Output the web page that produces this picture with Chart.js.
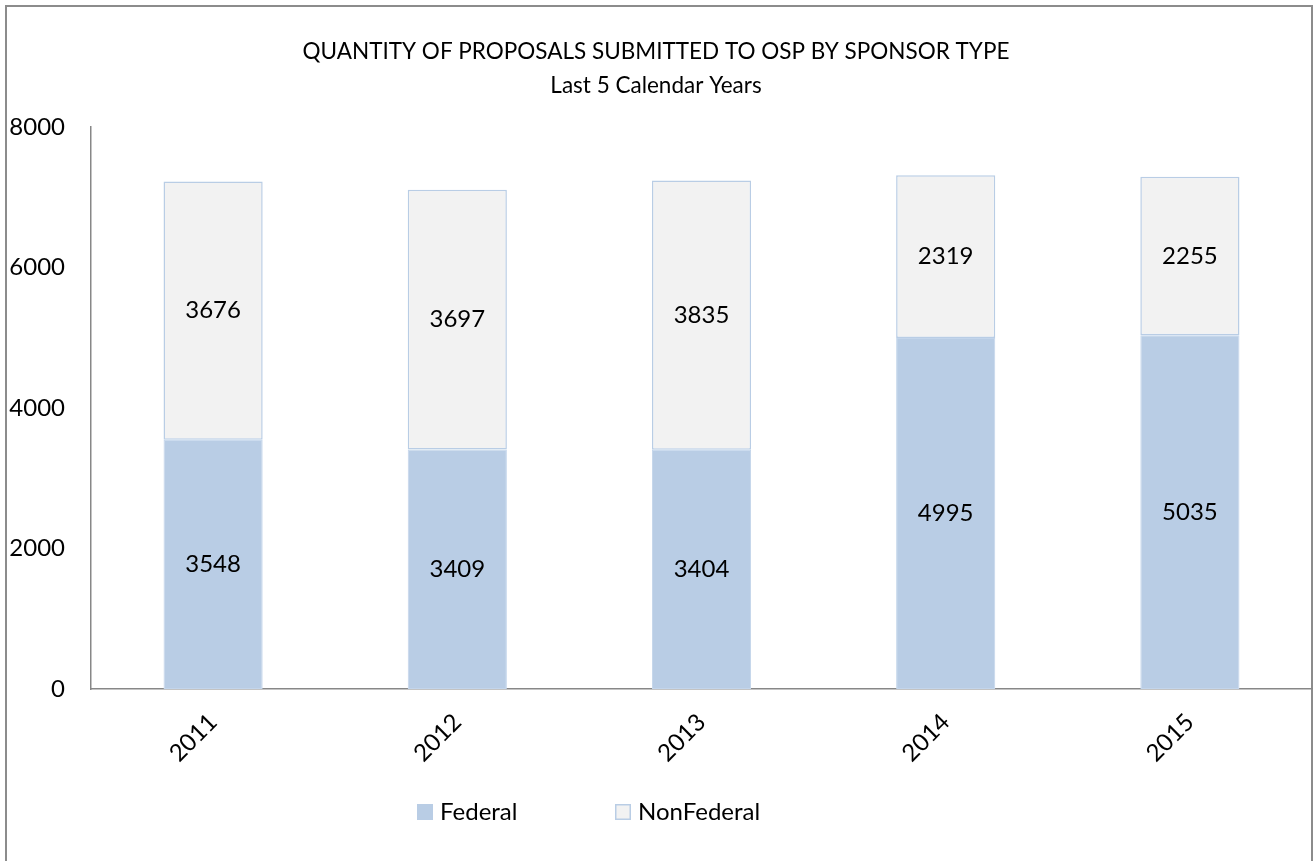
<!DOCTYPE html>
<html>
<head>
<meta charset="utf-8">
<script src="https://cdn.jsdelivr.net/npm/chart.js@4"></script>
<style>
  html, body { margin: 0; padding: 0; background: #fff; }
  #wrap { width: 1315px; height: 861px; position: relative; }
</style>
</head>
<body>
<div id="wrap"><canvas id="c" width="1315" height="861"></canvas></div>
<script>
const categories = ['2011', '2012', '2013', '2014', '2015'];
const federal = [3548, 3409, 3404, 4995, 5035];
const nonFederal = [3676, 3697, 3835, 2319, 2255];
const yTicks = [0, 2000, 4000, 6000, 8000];
const titleLines = ['QUANTITY OF PROPOSALS SUBMITTED TO OSP BY SPONSOR TYPE', 'Last 5 Calendar Years'];

const FONT = 'Lato, "Open Sans", sans-serif';

const frame = {
  id: 'frame',
  beforeDraw(chart) {
    const ctx = chart.ctx;
    ctx.save();
    ctx.fillStyle = '#ffffff';
    ctx.fillRect(0, 0, chart.width, chart.height);
    ctx.strokeStyle = '#8c8c8c';
    ctx.lineWidth = 2;
    ctx.strokeRect(6, 6, 1306, 870);
    ctx.restore();
  }
};

const valueLabels = {
  id: 'valueLabels',
  afterDatasetsDraw(chart) {
    const ctx = chart.ctx;
    ctx.save();
    ctx.font = '24px ' + FONT;
    ctx.fillStyle = '#000';
    ctx.textAlign = 'center';
    ctx.textBaseline = 'middle';
    chart.data.datasets.forEach((ds, di) => {
      const meta = chart.getDatasetMeta(di);
      meta.data.forEach((bar, i) => {
        const p = bar.getProps(['x', 'y', 'base'], true);
        ctx.fillText(String(ds.data[i]), p.x, (p.y + p.base) / 2);
      });
    });
    ctx.restore();
  }
};

const customLegend = {
  id: 'customLegend',
  afterDraw(chart) {
    const ctx = chart.ctx;
    const ds = chart.data.datasets;
    const boxX = [417, 615];
    const y = 812;
    ctx.save();
    ctx.font = '24px ' + FONT;
    ctx.textAlign = 'left';
    ctx.textBaseline = 'middle';
    ds.forEach((d, i) => {
      ctx.fillStyle = d.backgroundColor;
      ctx.fillRect(boxX[i], y - 8, 16, 16);
      if (d.legendStroke) {
        ctx.strokeStyle = d.borderColor;
        ctx.lineWidth = 1.5;
        ctx.strokeRect(boxX[i] + 0.75, y - 8 + 0.75, 14.5, 14.5);
      }
      ctx.fillStyle = '#000';
      ctx.fillText(d.label, boxX[i] + 23, y);
    });
    ctx.restore();
  }
};

new Chart(document.getElementById('c'), {
  type: 'bar',
  data: {
    labels: categories,
    datasets: [
      {
        label: 'Federal',
        data: federal,
        backgroundColor: '#B9CDE5',
        borderColor: '#C3D5EB',
        borderWidth: 1,
        borderSkipped: false,
        categoryPercentage: 1,
        barPercentage: 0.406
      },
      {
        label: 'NonFederal',
        data: nonFederal,
        backgroundColor: '#F2F2F2',
        borderColor: '#B9CDE5',
        borderWidth: 1.5,
        borderSkipped: false,
        legendStroke: true,
        categoryPercentage: 1,
        barPercentage: 0.406
      }
    ]
  },
  options: {
    responsive: false,
    animation: false,
    layout: { padding: { left: 0, right: 3, top: 0, bottom: 0 } },
    plugins: {
      legend: { display: false },
      tooltip: { enabled: false },
      title: {
        display: true,
        text: titleLines,
        color: '#000',
        font: { family: FONT, size: 22.5, weight: 'normal', lineHeight: 1.511 },
        padding: { top: 35, bottom: 24 }
      }
    },
    scales: {
      x: {
        stacked: true,
        grid: { display: false, drawTicks: false },
        border: { display: true, color: '#878787', width: 1.5 },
        ticks: {
          color: '#000',
          font: { family: FONT, size: 24 },
          minRotation: 45,
          maxRotation: 45,
          padding: 19
        },
        afterFit(s) { s.height = 172; }
      },
      y: {
        stacked: true,
        min: 0,
        max: 8000,
        afterBuildTicks(s) { s.ticks = yTicks.map(v => ({ value: v })); },
        grid: { display: false, drawTicks: false },
        border: { display: true, color: '#878787', width: 1.5 },
        ticks: {
          color: '#000',
          font: { family: FONT, size: 24 },
          padding: 26,
          callback: (v) => String(v)
        },
        afterFit(s) { s.width = 91; }
      }
    }
  },
  plugins: [frame, valueLabels, customLegend]
});
</script>
</body>
</html>
